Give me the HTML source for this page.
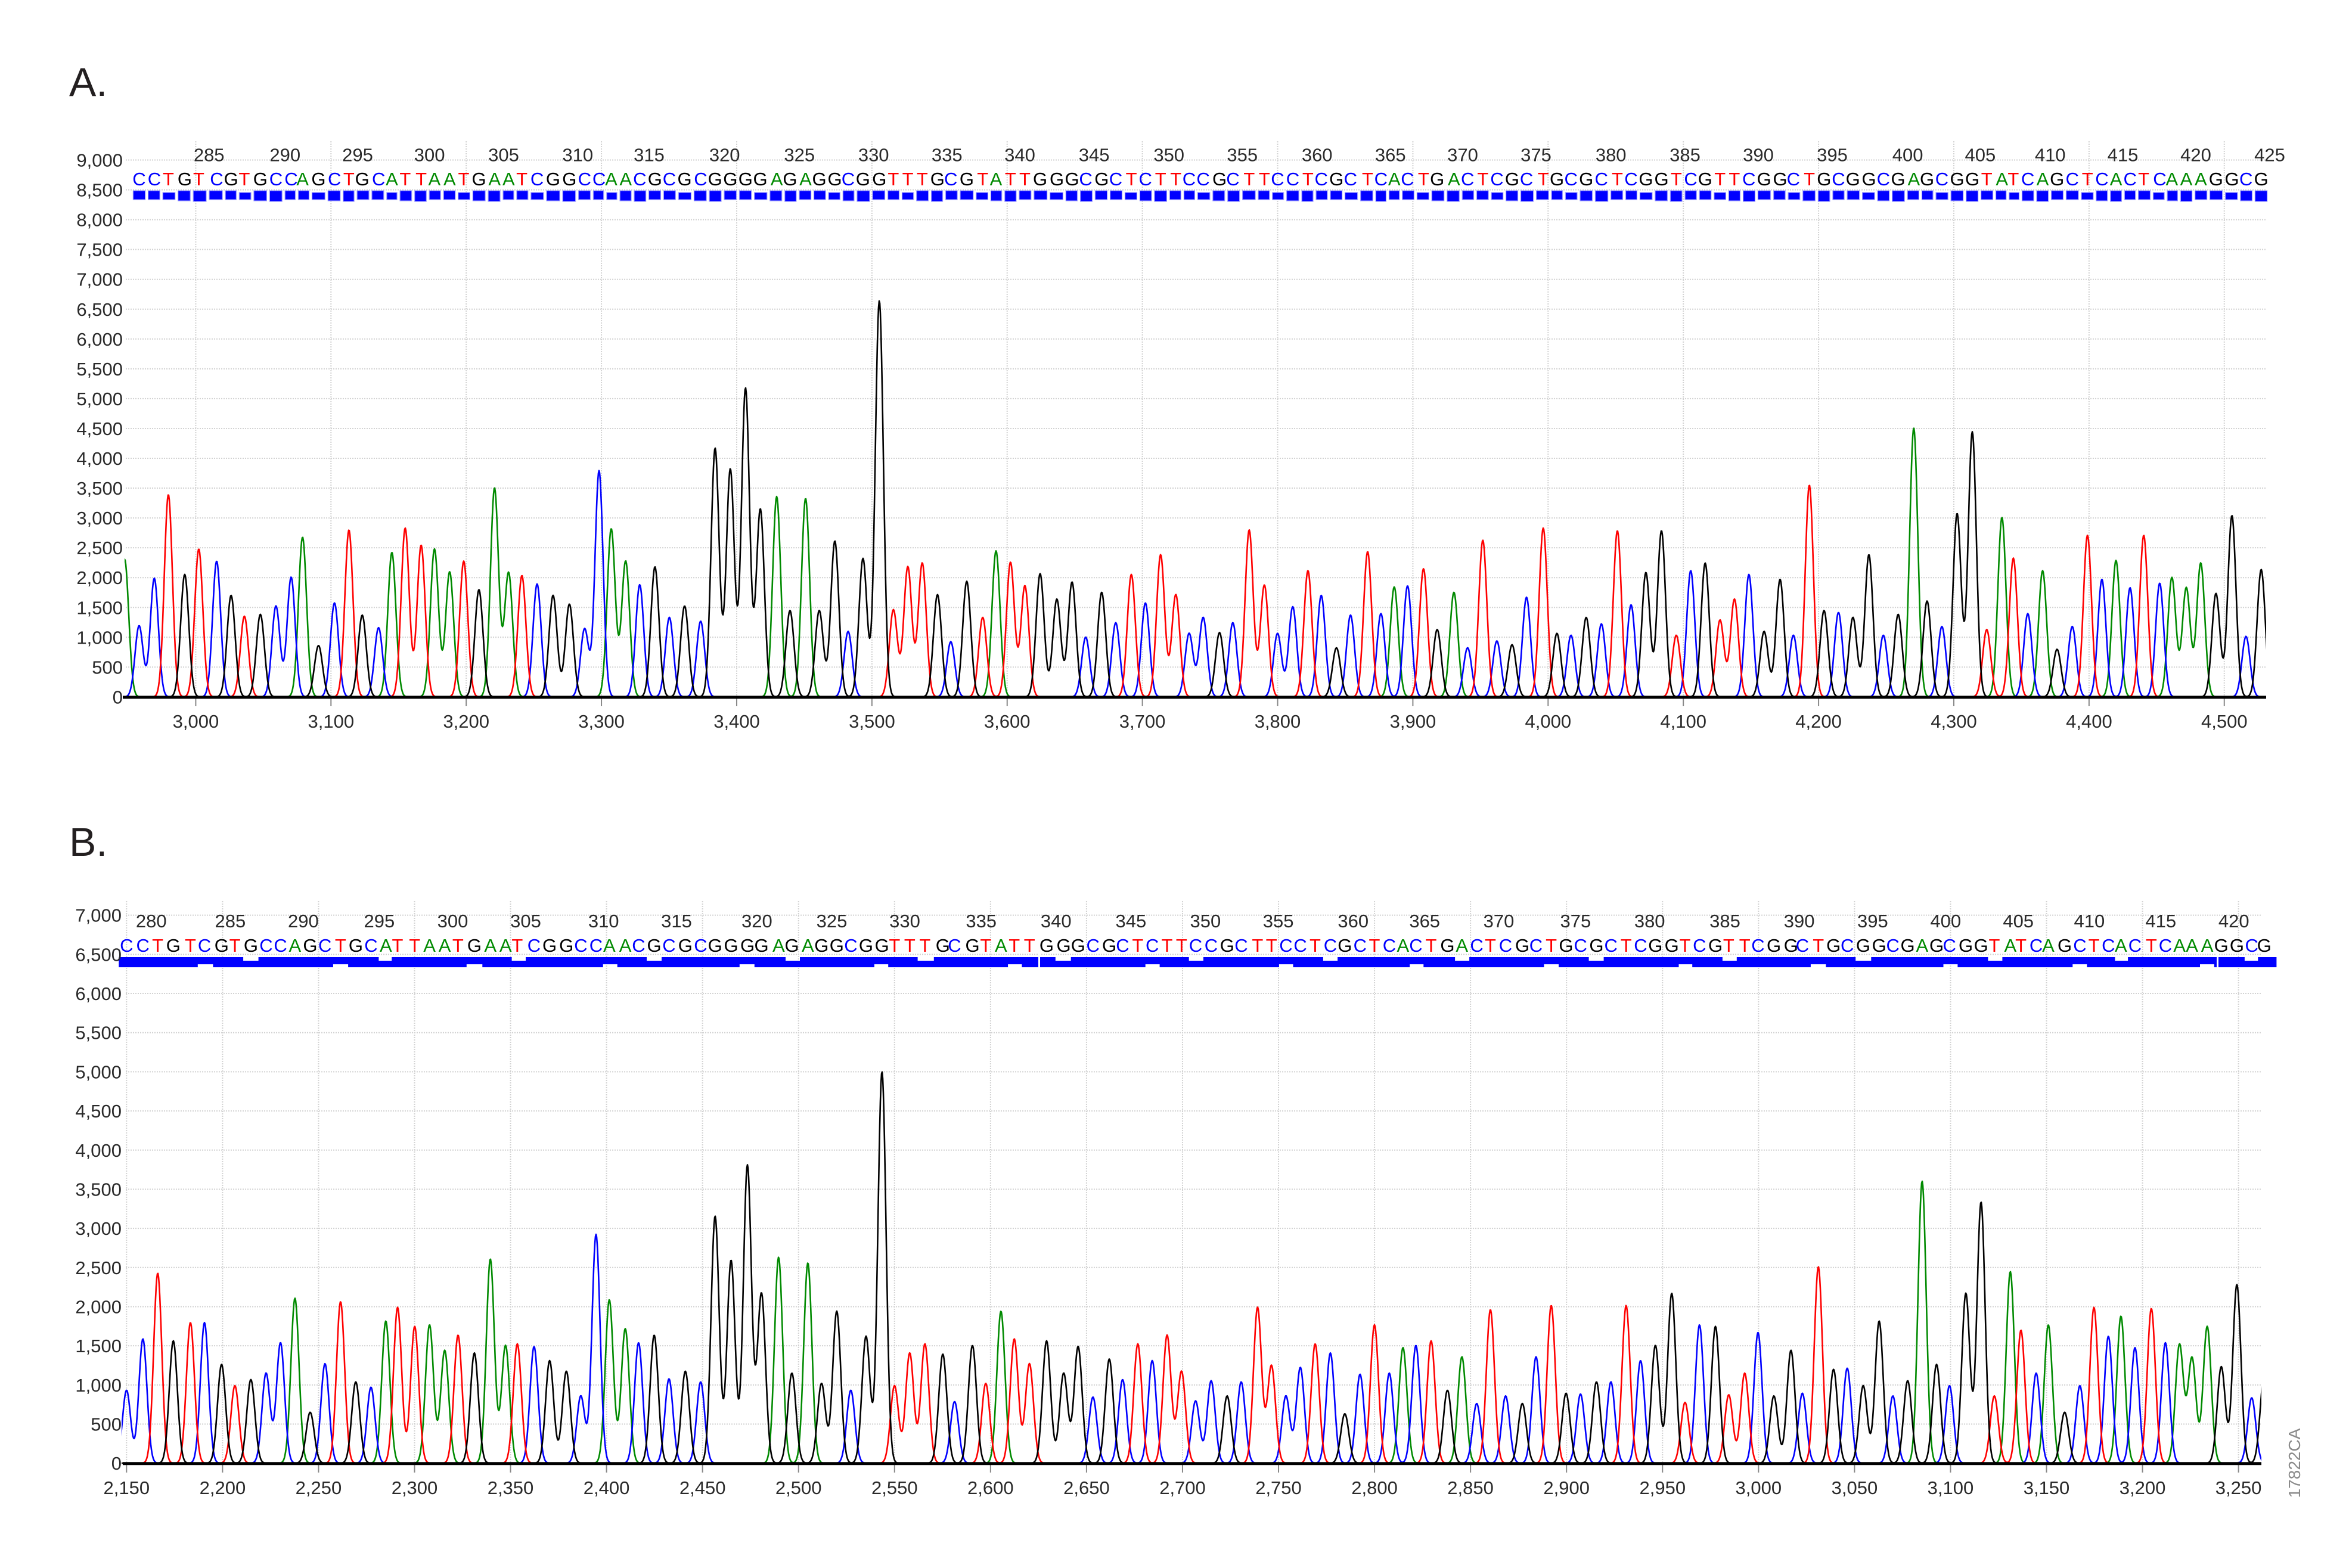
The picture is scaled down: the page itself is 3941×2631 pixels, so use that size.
<!DOCTYPE html>
<html><head><meta charset="utf-8">
<style>
html,body{margin:0;padding:0;background:#fff;}
svg{display:block;}
text{font-family:"Liberation Sans",Arial,sans-serif;}
.yl{font-size:31px;fill:#2a2a2a;text-anchor:end;}
.xl{font-size:31px;fill:#2a2a2a;text-anchor:middle;}
.nl{font-size:31px;fill:#2a2a2a;text-anchor:middle;}
.sq{font-size:31px;text-anchor:middle;}
.pl{font-size:68px;fill:#231f20;}
</style></head><body>
<svg id="s" xmlns="http://www.w3.org/2000/svg" width="3941" height="2631" viewBox="0 0 3941 2631">
<defs>
<clipPath id="clipA"><rect x="209" y="200" width="3593" height="975"/></clipPath>
<clipPath id="clipB"><rect x="204" y="1500" width="3590" height="960"/></clipPath>
</defs>
<rect width="3941" height="2631" fill="#fff"/>
<g id="grid"></g>
<g id="bars"></g>
<g id="traces"></g>
<g id="axes"></g>

<text class="pl" x="116" y="161">A.</text>
<text class="pl" x="116" y="1436">B.</text>

<!-- Panel A y labels -->
<text class="yl" x="206" y="1180.4">0</text>
<text class="yl" x="206" y="1130.4">500</text>
<text class="yl" x="206" y="1080.3">1,000</text>
<text class="yl" x="206" y="1030.3">1,500</text>
<text class="yl" x="206" y="980.2">2,000</text>
<text class="yl" x="206" y="930.2">2,500</text>
<text class="yl" x="206" y="880.1">3,000</text>
<text class="yl" x="206" y="830.1">3,500</text>
<text class="yl" x="206" y="780">4,000</text>
<text class="yl" x="206" y="730">4,500</text>
<text class="yl" x="206" y="679.9">5,000</text>
<text class="yl" x="206" y="629.9">5,500</text>
<text class="yl" x="206" y="579.8">6,000</text>
<text class="yl" x="206" y="529.8">6,500</text>
<text class="yl" x="206" y="479.7">7,000</text>
<text class="yl" x="206" y="429.7">7,500</text>
<text class="yl" x="206" y="379.6">8,000</text>
<text class="yl" x="206" y="329.6">8,500</text>
<text class="yl" x="206" y="279.5">9,000</text>

<!-- Panel A x labels -->
<text class="xl" x="328.4" y="1221">3,000</text>
<text class="xl" x="555.3" y="1221">3,100</text>
<text class="xl" x="782.2" y="1221">3,200</text>
<text class="xl" x="1009.1" y="1221">3,300</text>
<text class="xl" x="1236" y="1221">3,400</text>
<text class="xl" x="1462.9" y="1221">3,500</text>
<text class="xl" x="1689.7" y="1221">3,600</text>
<text class="xl" x="1916.6" y="1221">3,700</text>
<text class="xl" x="2143.5" y="1221">3,800</text>
<text class="xl" x="2370.4" y="1221">3,900</text>
<text class="xl" x="2597.3" y="1221">4,000</text>
<text class="xl" x="2824.2" y="1221">4,100</text>
<text class="xl" x="3051.1" y="1221">4,200</text>
<text class="xl" x="3278" y="1221">4,300</text>
<text class="xl" x="3504.9" y="1221">4,400</text>
<text class="xl" x="3731.8" y="1221">4,500</text>

<!-- Panel A base numbers -->
<text class="nl" x="350.7" y="270.5">285</text>
<text class="nl" x="478.3" y="270.5">290</text>
<text class="nl" x="600" y="270.5">295</text>
<text class="nl" x="720.6" y="270.5">300</text>
<text class="nl" x="845" y="270.5">305</text>
<text class="nl" x="969.3" y="270.5">310</text>
<text class="nl" x="1089" y="270.5">315</text>
<text class="nl" x="1215.7" y="270.5">320</text>
<text class="nl" x="1341.3" y="270.5">325</text>
<text class="nl" x="1465.7" y="270.5">330</text>
<text class="nl" x="1588.8" y="270.5">335</text>
<text class="nl" x="1711" y="270.5">340</text>
<text class="nl" x="1835.6" y="270.5">345</text>
<text class="nl" x="1961.2" y="270.5">350</text>
<text class="nl" x="2084.3" y="270.5">355</text>
<text class="nl" x="2209.7" y="270.5">360</text>
<text class="nl" x="2332.8" y="270.5">365</text>
<text class="nl" x="2454" y="270.5">370</text>
<text class="nl" x="2577" y="270.5">375</text>
<text class="nl" x="2702.7" y="270.5">380</text>
<text class="nl" x="2827" y="270.5">385</text>
<text class="nl" x="2950" y="270.5">390</text>
<text class="nl" x="3074" y="270.5">395</text>
<text class="nl" x="3200.6" y="270.5">400</text>
<text class="nl" x="3322.4" y="270.5">405</text>
<text class="nl" x="3439.7" y="270.5">410</text>
<text class="nl" x="3561.5" y="270.5">415</text>
<text class="nl" x="3684" y="270.5">420</text>
<text class="nl" x="3808" y="270.5">425</text>

<!-- Panel B y labels -->
<text class="yl" x="204" y="2466.2">0</text>
<text class="yl" x="204" y="2400.5">500</text>
<text class="yl" x="204" y="2334.8">1,000</text>
<text class="yl" x="204" y="2269.2">1,500</text>
<text class="yl" x="204" y="2203.5">2,000</text>
<text class="yl" x="204" y="2137.8">2,500</text>
<text class="yl" x="204" y="2072.1">3,000</text>
<text class="yl" x="204" y="2006.4">3,500</text>
<text class="yl" x="204" y="1940.8">4,000</text>
<text class="yl" x="204" y="1875.1">4,500</text>
<text class="yl" x="204" y="1809.4">5,000</text>
<text class="yl" x="204" y="1743.7">5,500</text>
<text class="yl" x="204" y="1678">6,000</text>
<text class="yl" x="204" y="1612.4">6,500</text>
<text class="yl" x="204" y="1546.7">7,000</text>

<!-- Panel B x labels -->
<text class="xl" x="212.3" y="2507">2,150</text>
<text class="xl" x="373.4" y="2507">2,200</text>
<text class="xl" x="534.4" y="2507">2,250</text>
<text class="xl" x="695.5" y="2507">2,300</text>
<text class="xl" x="856.5" y="2507">2,350</text>
<text class="xl" x="1017.6" y="2507">2,400</text>
<text class="xl" x="1178.7" y="2507">2,450</text>
<text class="xl" x="1339.7" y="2507">2,500</text>
<text class="xl" x="1500.8" y="2507">2,550</text>
<text class="xl" x="1661.8" y="2507">2,600</text>
<text class="xl" x="1822.9" y="2507">2,650</text>
<text class="xl" x="1984" y="2507">2,700</text>
<text class="xl" x="2145" y="2507">2,750</text>
<text class="xl" x="2306.1" y="2507">2,800</text>
<text class="xl" x="2467.1" y="2507">2,850</text>
<text class="xl" x="2628.2" y="2507">2,900</text>
<text class="xl" x="2789.3" y="2507">2,950</text>
<text class="xl" x="2950.3" y="2507">3,000</text>
<text class="xl" x="3111.4" y="2507">3,050</text>
<text class="xl" x="3272.4" y="2507">3,100</text>
<text class="xl" x="3433.5" y="2507">3,150</text>
<text class="xl" x="3594.6" y="2507">3,200</text>
<text class="xl" x="3755.6" y="2507">3,250</text>

<!-- Panel B base numbers -->
<text class="nl" x="253.8" y="1556">280</text>
<text class="nl" x="386.4" y="1556">285</text>
<text class="nl" x="508.9" y="1556">290</text>
<text class="nl" x="636.4" y="1556">295</text>
<text class="nl" x="759.5" y="1556">300</text>
<text class="nl" x="882" y="1556">305</text>
<text class="nl" x="1012.7" y="1556">310</text>
<text class="nl" x="1135" y="1556">315</text>
<text class="nl" x="1269.9" y="1556">320</text>
<text class="nl" x="1395.5" y="1556">325</text>
<text class="nl" x="1518" y="1556">330</text>
<text class="nl" x="1646.2" y="1556">335</text>
<text class="nl" x="1771.8" y="1556">340</text>
<text class="nl" x="1897.4" y="1556">345</text>
<text class="nl" x="2022.4" y="1556">350</text>
<text class="nl" x="2144.6" y="1556">355</text>
<text class="nl" x="2270.3" y="1556">360</text>
<text class="nl" x="2390.2" y="1556">365</text>
<text class="nl" x="2514.5" y="1556">370</text>
<text class="nl" x="2643.4" y="1556">375</text>
<text class="nl" x="2767.7" y="1556">380</text>
<text class="nl" x="2894" y="1556">385</text>
<text class="nl" x="3018.6" y="1556">390</text>
<text class="nl" x="3141.9" y="1556">395</text>
<text class="nl" x="3264.3" y="1556">400</text>
<text class="nl" x="3386.2" y="1556">405</text>
<text class="nl" x="3505.4" y="1556">410</text>
<text class="nl" x="3625.3" y="1556">415</text>
<text class="nl" x="3747.8" y="1556">420</text>

<!-- Sequences (letters positioned by script) -->
<text id="seqA" class="sq" y="311">CCTGTCGTGCCAGCTGCATTAATGAATCGGCCAACGCGCGGGGAGAGGCGGTTTGCGTATTGGGCGCTCTTCCGCTTCCTCGCTCACTGACTCGCTGCGCTCGGTCGTTCGGCTGCGGCGAGCGGTATCAGCTCACTCAAAGGCG</text>
<text id="seqB" class="sq" y="1597">CCTGTCGTGCCAGCTGCATTAATGAATCGGCCAACGCGCGGGGAGAGGCGGTTTGCGTATTGGGCGCTCTTCCGCTTCCTCGCTCACTGACTCGCTGCGCTCGGTCGTTCGGCTGCGGCGAGCGGTATCAGCTCACTCAAAGGCG</text>

<text x="3859" y="2455" transform="rotate(-90 3859 2455)" font-size="28" fill="#8a8a8a" text-anchor="middle">17822CA</text>
</svg>
<script>
(function(){
var NS='http://www.w3.org/2000/svg';
function el(tag,attrs,parent){var e=document.createElementNS(NS,tag);for(var k in attrs)e.setAttribute(k,attrs[k]);if(parent)parent.appendChild(e);return e;}
var COL={A:'#008a00',C:'#0000ff',G:'#000000',T:'#ff0000'};
var S=1.568;
var gGrid=document.getElementById('grid'),gBars=document.getElementById('bars'),gTr=document.getElementById('traces'),gAx=document.getElementById('axes');

var cropsA=[
[190,240,[[30,1095,'a'],[68,1270,'C'],[108,1145,'C'],[145,925,'T'],[188,1135,'G'],[225,1068,'T'],[272,1100,'C'],[310,1190,'G'],[345,1245,'T'],[387,1240,'G'],[428,1218,'C'],[468,1142,'C'],[498,1037,'A'],[540,1322,'G'],[582,1210,'C'],[620,1018,'T'],[655,1242,'G'],[698,1275,'C'],[733,1077,'A'],[768,1013,'T'],[810,1058,'T'],[845,1068,'A'],[885,1128,'A'],[922,1100,'T'],[962,1175,'G'],[1003,908,'A'],[1040,1130,'A'],[1075,1138,'T'],[1115,1160,'C'],[1157,1190,'G'],[1200,1213,'G'],[1240,1278,'C'],[1278,862,'C'],[1310,1015,'A'],[1348,1100,'A'],[1385,1162,'C'],[1425,1115,'G'],[1463,1248,'C'],[1503,1218,'G']]],
[1150,240,[[40,1258,'C'],[78,803,'G'],[118,858,'G'],[158,645,'G'],[197,963,'G'],[240,930,'A'],[275,1230,'G'],[316,935,'A'],[352,1230,'G'],[393,1047,'G'],[428,1285,'C'],[467,1093,'G'],[510,415,'G'],[547,1228,'T'],[585,1115,'T'],[623,1105,'T'],[663,1188,'G'],[698,1312,'C'],[740,1153,'G'],[782,1248,'T'],[817,1073,'A'],[855,1103,'T'],[893,1165,'T'],[933,1133,'G'],[977,1200,'G'],[1017,1155,'G'],[1053,1300,'C'],[1095,1182,'G'],[1132,1262,'C'],[1173,1135,'T'],[1210,1210,'C'],[1250,1083,'T'],[1290,1188,'T'],[1325,1290,'C'],[1362,1248,'C'],[1405,1288,'G'],[1440,1262,'C'],[1483,1018,'T'],[1523,1163,'T']]],
[2100,240,[[68,1290,'C'],[108,1220,'C'],[148,1125,'T'],[183,1190,'C'],[223,1328,'G'],[260,1242,'C'],[305,1075,'T'],[340,1238,'C'],[375,1168,'A'],[410,1165,'C'],[452,1120,'T'],[488,1280,'G'],[532,1182,'A'],[568,1328,'C'],[608,1045,'T'],[645,1310,'C'],[685,1320,'G'],[723,1195,'C'],[767,1013,'T'],[803,1290,'G'],[840,1295,'C'],[880,1248,'G'],[920,1265,'C'],[962,1020,'T'],[998,1215,'C'],[1037,1130,'G'],[1078,1020,'G'],[1117,1295,'T'],[1155,1125,'C'],[1193,1105,'G'],[1232,1255,'T'],[1270,1200,'T'],[1308,1135,'C'],[1348,1285,'G'],[1390,1148,'G'],[1425,1295,'C'],[1467,900,'T']]],
[2941,240,[[187,1230,'G'],[225,1235,'C'],[263,1248,'G'],[305,1083,'G'],[343,1295,'C'],[382,1240,'G'],[423,750,'A'],[458,1205,'G'],[497,1272,'C'],[537,975,'G'],[577,760,'G'],[615,1280,'T'],[655,985,'A'],[685,1092,'T'],[723,1238,'C'],[762,1125,'A'],[800,1332,'G'],[840,1272,'C'],[880,1032,'T'],[918,1148,'C'],[955,1098,'A'],[992,1170,'C'],[1028,1032,'T'],[1070,1158,'C'],[1102,1143,'A'],[1140,1170,'A'],[1178,1105,'A'],[1218,1185,'G'],[1260,980,'G'],[1297,1298,'C'],[1337,1122,'G']]]
];
var cropsB=[
[190,1510,[[35,1290,'C'],[78,1155,'C'],[117,982,'T'],[158,1160,'G'],[203,1112,'T'],[240,1112,'C'],[285,1222,'G'],[320,1278,'T'],[362,1262,'G'],[402,1245,'C'],[440,1165,'C'],[478,1048,'A'],[518,1348,'G'],[557,1220,'C'],[598,1057,'T'],[638,1268,'G'],[678,1282,'C'],[717,1108,'A'],[748,1072,'T'],[793,1122,'T'],[832,1118,'A'],[872,1185,'A'],[907,1145,'T'],[950,1192,'G'],[992,945,'A'],[1032,1172,'A'],[1063,1168,'T'],[1107,1175,'C'],[1148,1212,'G'],[1192,1240,'G'],[1230,1305,'C'],[1270,880,'C'],[1305,1052,'A'],[1347,1128,'A'],[1382,1165,'C'],[1423,1145,'G'],[1462,1260,'C'],[1505,1240,'G']]],
[1150,1510,[[40,1268,'C'],[78,832,'G'],[120,948,'G'],[163,698,'G'],[200,1035,'G'],[245,940,'A'],[280,1245,'G'],[322,955,'A'],[358,1272,'G'],[398,1082,'G'],[435,1290,'C'],[475,1148,'G'],[517,452,'G'],[550,1278,'T'],[590,1192,'T'],[630,1168,'T'],[677,1195,'G'],[708,1320,'C'],[755,1172,'G'],[790,1272,'T'],[830,1082,'A'],[865,1155,'T'],[905,1220,'T'],[950,1160,'G'],[995,1245,'G'],[1033,1175,'G'],[1072,1308,'C'],[1115,1208,'G'],[1150,1262,'C'],[1190,1168,'T'],[1228,1212,'C'],[1267,1145,'T'],[1305,1240,'T'],[1342,1318,'C'],[1383,1265,'C'],[1425,1305,'G'],[1462,1268,'C'],[1505,1072,'T']]],
[2100,1510,[[52,1225,'T'],[90,1305,'C'],[128,1230,'C'],[167,1168,'T'],[207,1192,'C'],[245,1352,'G'],[285,1248,'C'],[323,1118,'T'],[362,1245,'C'],[398,1178,'A'],[432,1172,'C'],[472,1160,'T'],[515,1290,'G'],[553,1202,'A'],[592,1325,'C'],[628,1078,'T'],[668,1305,'C'],[712,1325,'G'],[748,1202,'C'],[788,1067,'T'],[827,1298,'G'],[865,1300,'C'],[907,1268,'G'],[945,1268,'C'],[985,1067,'T'],[1023,1212,'C'],[1062,1172,'G'],[1105,1035,'G'],[1140,1322,'T'],[1178,1118,'C'],[1220,1122,'G'],[1255,1302,'T'],[1297,1245,'T'],[1332,1138,'C']]],
[2941,1510,[[55,1305,'G'],[100,1185,'G'],[130,1298,'C'],[172,965,'T'],[212,1235,'G'],[248,1232,'C'],[290,1278,'G'],[332,1108,'G'],[368,1305,'C'],[407,1265,'G'],[445,740,'A'],[483,1222,'G'],[517,1278,'C'],[560,1035,'G'],[600,795,'G'],[635,1305,'T'],[677,978,'A'],[705,1132,'T'],[745,1245,'C'],[777,1118,'A'],[820,1348,'G'],[860,1278,'C'],[897,1072,'T'],[935,1148,'C'],[968,1095,'A'],[1005,1178,'C'],[1048,1075,'T'],[1085,1165,'C'],[1122,1170,'A'],[1155,1205,'A'],[1195,1122,'A'],[1232,1228,'G'],[1273,1012,'G'],[1312,1310,'C'],[1345,1250,'G']]]
];

function peaksOf(crops,base){
  var P=[];
  crops.forEach(function(c){c[2].forEach(function(q){
    var b=q[2];P.push({x:c[0]+q[0]/S,h:base-(c[1]+q[1]/S),b:b.toUpperCase(),lt:(b===b.toUpperCase())});
  });});
  P.sort(function(a,b){return a.x-b.x;});
  return P;
}

function grid(x0,x1,yBase,yTop,hLines,vLines){
  hLines.forEach(function(y){el('line',{x1:x0,x2:x1,y1:y,y2:y,stroke:'#d2d2d2','stroke-width':2,'stroke-dasharray':'2 2'},gGrid);});
  vLines.forEach(function(x){el('line',{x1:x,x2:x,y1:yTop,y2:yBase,stroke:'#d2d2d2','stroke-width':2,'stroke-dasharray':'2 2'},gGrid);});
}

function traces(P,base,x0,x1,clip){
  var g=el('g',{'clip-path':'url(#'+clip+')'},gTr);
  var sig=6.8,k=1/(2*sig*sig);
  ['A','C','T','G'].forEach(function(ch){
    var pk=P.filter(function(p){return p.b===ch;});
    var d='';
    for(var x=Math.floor(x0)-2;x<=Math.ceil(x1)+2;x+=1){
      var v=0;
      for(var i=0;i<pk.length;i++){var dx=x-pk[i].x;if(dx>-45&&dx<45)v+=pk[i].h*Math.exp(-dx*dx*k);}
      d+=(d?'L':'M')+x+' '+(base-v).toFixed(1);
    }
    el('path',{d:d,fill:'none',stroke:COL[ch],'stroke-width':2.6,'stroke-linejoin':'round'},g);
  });
}

function letters(id,P){
  var t=document.getElementById(id);
  var s=t.textContent.replace(/\s/g,'');
  var L=P.filter(function(p){return p.lt;});
  while(t.firstChild)t.removeChild(t.firstChild);
  for(var i=0;i<s.length&&i<L.length;i++){
    var ts=el('tspan',{x:L[i].x.toFixed(1),fill:COL[s[i]]},t);
    ts.textContent=s[i];
  }
  return L;
}

function barsA(L){
  var n=L.length;
  for(var i=0;i<n;i++){
    var l=(i>0?(L[i-1].x+L[i].x)/2:L[i].x-12.5)+2.5;
    var r=(i<n-1?(L[i].x+L[i+1].x)/2:L[i].x+12.5)-2.5;
    var m=(i*7+3)%5;
    var top=320+(m===2?3:0);
    var bot=335+(m===1?3:(m===4?2:0));
    el('rect',{x:l.toFixed(1),y:top,width:(r-l).toFixed(1),height:bot-top,fill:'#0000ff',stroke:'#9a9aff','stroke-width':1.2},gBars);
  }
}
function barsB(L){
  var n=L.length;
  for(var i=0;i<n;i++){
    var l=(i>0?(L[i-1].x+L[i].x)/2:L[i].x-13);
    var r=(i<n-1?(L[i].x+L[i+1].x)/2:L[i].x+20);
    var m=(i*11+5)%9;
    var top=1606+(m===3?6:0);
    var bot=1623-(m===6?5:0);
    el('rect',{x:l.toFixed(1),y:top,width:(r-l+0.6).toFixed(1),height:bot-top,fill:'#0000ff'},gBars);
  }
  el('rect',{x:1742,y:1600,width:3,height:30,fill:'#fff'},gBars);
  el('rect',{x:3719,y:1600,width:3,height:30,fill:'#fff'},gBars);
}

function axis(x0,x1,y,ticks){
  ticks.forEach(function(x){el('line',{x1:x,x2:x,y1:y+2,y2:y+15,stroke:'#888','stroke-width':2},gAx);});
  el('line',{x1:x0,x2:x1,y1:y,y2:y,stroke:'#000','stroke-width':5},gAx);
}

/* Panel A */
var baseA=1169.4;
var hA=[],vA=[];
for(var v=0;v<=9000;v+=500)hA.push(baseA-v*0.1001);
for(var k=0;k<=15;k++)vA.push(328.4+k*226.89);
grid(211,3802,baseA,237,hA,vA);
var PA=peaksOf(cropsA,baseA);
var LA=letters('seqA',PA);
barsA(LA);
traces(PA,baseA,209,3802,'clipA');
axis(206,3802,baseA+0.6,vA);

/* Panel B */
var baseB=2455.2;
var hB=[],vB=[];
for(var v2=0;v2<=7000;v2+=500)hB.push(baseB-v2*0.13136);
for(var k2=0;k2<=22;k2++)vB.push(212.3+k2*161.06);
grid(211,3794,baseB,1512,hB,vB);
var PB=peaksOf(cropsB,baseB);
var LB=letters('seqB',PB);
barsB(LB);
traces(PB,baseB,204,3794,'clipB');
axis(206,3794,baseB+0.6,vB);
})();
</script>
</body></html>
